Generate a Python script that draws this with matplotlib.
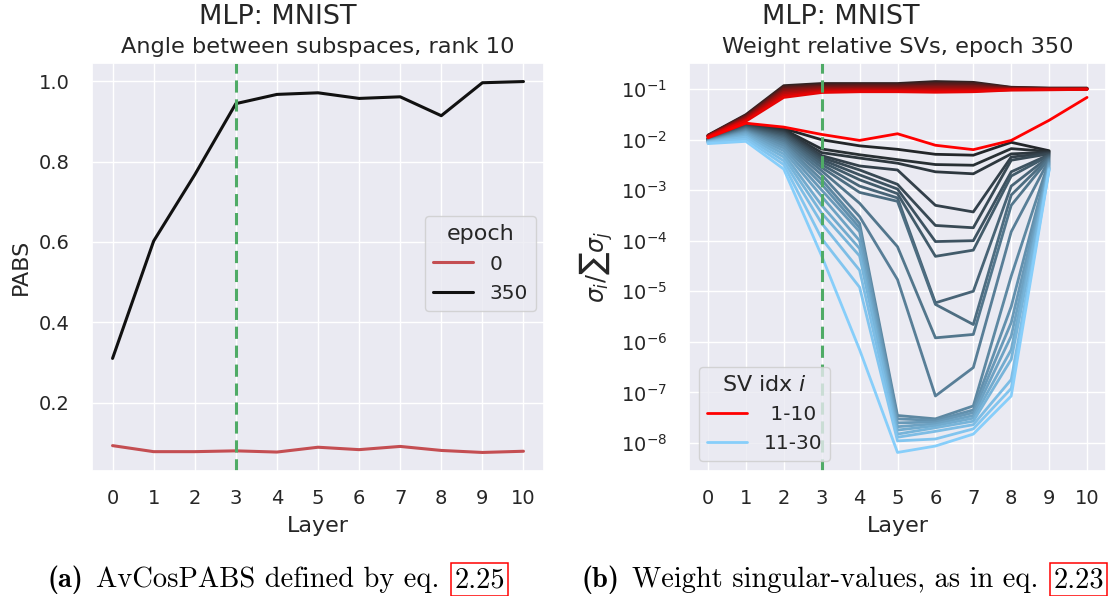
import numpy as np
import matplotlib
matplotlib.use("Agg")
import matplotlib.pyplot as plt
from matplotlib.lines import Line2D
import seaborn as sns

# ---------------- data ----------------
layers = list(range(11))

# (a) average cosine of principal angles between subspaces, rank 10
pabs_epoch0 = [0.093, 0.078, 0.078, 0.080, 0.077, 0.089, 0.083, 0.091, 0.081, 0.076, 0.079]
pabs_epoch350 = [0.310, 0.602, 0.767, 0.944, 0.967, 0.971, 0.957, 0.961, 0.914, 0.996, 0.999]

# (b) relative singular values sigma_i / sum_j sigma_j, epoch 350
# top ten singular values (index 1..10), layers 0..10
sv_top = [
    [0.0122, 0.031, 0.116, 0.128, 0.128, 0.128, 0.140, 0.135, 0.108, 0.104, 0.104],
    [0.0120, 0.030, 0.110, 0.120, 0.122, 0.122, 0.130, 0.128, 0.106, 0.103, 0.103],
    [0.0119, 0.029, 0.104, 0.114, 0.116, 0.116, 0.122, 0.120, 0.104, 0.102, 0.102],
    [0.0118, 0.028, 0.098, 0.108, 0.110, 0.110, 0.114, 0.113, 0.102, 0.101, 0.101],
    [0.0117, 0.027, 0.092, 0.102, 0.104, 0.104, 0.107, 0.106, 0.100, 0.100, 0.100],
    [0.0116, 0.026, 0.086, 0.097, 0.099, 0.099, 0.100, 0.100, 0.099, 0.099, 0.100],
    [0.0115, 0.025, 0.080, 0.093, 0.095, 0.094, 0.095, 0.095, 0.098, 0.098, 0.099],
    [0.0113, 0.024, 0.074, 0.089, 0.091, 0.091, 0.090, 0.091, 0.096, 0.097, 0.099],
    [0.0111, 0.023, 0.068, 0.085, 0.088, 0.088, 0.086, 0.088, 0.095, 0.096, 0.098],
    [0.0108, 0.021, 0.0176, 0.0126, 0.0096, 0.013, 0.0077, 0.0063, 0.0096, 0.024, 0.068],
]
# singular values 11..30, layers 0..9 (the last layer has rank 10)
sv_rest = [
    [0.0105, 0.0205, 0.0165, 9.9e-3, 7.5e-3, 6.4e-3, 5.1e-3, 4.9e-3, 8.8e-3, 6.0e-3],
    [0.0104, 0.0200, 0.0158, 6.5e-3, 5.0e-3, 4.0e-3, 3.2e-3, 3.1e-3, 6.6e-3, 5.8e-3],
    [0.0103, 0.0195, 0.0150, 5.5e-3, 4.3e-3, 3.4e-3, 2.3e-3, 2.1e-3, 5.2e-3, 5.6e-3],
    [0.0102, 0.0190, 0.0142, 4.8e-3, 3.0e-3, 2.5e-3, 5.0e-4, 3.7e-4, 4.5e-3, 5.4e-3],
    [0.0101, 0.0185, 0.0135, 4.4e-3, 2.5e-3, 1.3e-3, 2.0e-4, 1.8e-4, 3.9e-3, 5.2e-3],
    [0.0100, 0.0180, 0.0128, 4.0e-3, 2.0e-3, 1.05e-3, 9.6e-5, 1.0e-4, 2.3e-3, 5.0e-3],
    [0.0099, 0.0175, 0.0120, 3.6e-3, 1.6e-3, 8.5e-4, 4.9e-5, 6.5e-5, 1.9e-3, 4.8e-3],
    [0.0098, 0.0170, 0.0112, 3.2e-3, 1.2e-3, 7.0e-4, 5.9e-6, 1.0e-5, 1.2e-3, 4.6e-3],
    [0.0097, 0.0165, 0.0105, 2.8e-3, 9.0e-4, 6.0e-4, 5.5e-6, 2.2e-6, 8.0e-4, 4.4e-3],
    [0.0096, 0.0160, 0.0098, 2.4e-3, 5.5e-4, 7.6e-5, 1.2e-6, 1.4e-6, 5.0e-4, 4.2e-3],
    [0.0095, 0.0155, 0.0090, 2.0e-3, 3.0e-4, 1.7e-5, 8.5e-8, 3.1e-7, 1.5e-4, 4.0e-3],
    [0.0094, 0.0150, 0.0083, 1.6e-3, 2.2e-4, 3.5e-8, 3.0e-8, 5.4e-8, 2.0e-5, 3.8e-3],
    [0.0093, 0.0145, 0.0076, 1.3e-3, 1.8e-4, 3.0e-8, 2.8e-8, 4.5e-8, 5.0e-6, 3.6e-3],
    [0.0092, 0.0140, 0.0068, 1.0e-3, 1.5e-4, 2.5e-8, 2.6e-8, 4.0e-8, 2.4e-6, 3.4e-3],
    [0.0091, 0.0135, 0.0060, 7.5e-4, 1.0e-4, 2.1e-8, 2.4e-8, 3.5e-8, 1.3e-6, 3.2e-3],
    [0.0090, 0.0128, 0.0052, 5.0e-4, 7.0e-5, 1.8e-8, 2.2e-8, 3.1e-8, 7.0e-7, 3.0e-3],
    [0.0089, 0.0120, 0.0045, 3.5e-4, 5.0e-5, 1.5e-8, 2.0e-8, 2.7e-8, 4.5e-7, 2.8e-3],
    [0.0088, 0.0112, 0.0038, 2.2e-4, 2.6e-5, 1.3e-8, 1.7e-8, 2.3e-8, 1.8e-7, 2.7e-3],
    [0.0086, 0.0102, 0.0032, 1.1e-4, 1.2e-5, 1.1e-8, 1.2e-8, 1.9e-8, 1.2e-7, 2.6e-3],
    [0.0083, 0.0092, 0.0026, 5.0e-5, 7.0e-7, 6.5e-9, 8.7e-9, 1.5e-8, 8.5e-8, 2.5e-3],
]
split_layer = 3

# ---------------- style ----------------
sns.set_theme(style="darkgrid")
plt.rcParams["font.family"] = ["DejaVu Sans"]
plt.rcParams["mathtext.fontset"] = "dejavusans"

W, H = 1108, 596
fig = plt.figure(figsize=(W / 100, H / 100), dpi=100)

TICK = 14
LABEL = 16
SUB = 16.2
SUP = 19.5
GREEN = "#4fab66"

ax1 = fig.add_axes([92 / W, 1 - 471 / H, (544 - 92) / W, (471 - 63) / H])
ax2 = fig.add_axes([689 / W, 1 - 471 / H, (1106 - 689) / W, (471 - 63) / H])

# ---- (a) ----
red_a = "#c44e52"
ax1.plot(layers, pabs_epoch0, color=red_a, lw=2.2, label="0")
ax1.plot(layers, pabs_epoch350, color="#111111", lw=2.2, label="350")
ax1.axvline(split_layer, color=GREEN, ls="--", lw=2.2, dashes=(4, 2.2))
ax1.set_xticks(layers)
ax1.set_yticks([0.2, 0.4, 0.6, 0.8, 1.0])
ax1.tick_params(axis="x", labelsize=TICK, pad=7)
ax1.tick_params(axis="y", labelsize=TICK, pad=10)
ax1.set_xlabel("Layer", fontsize=LABEL, labelpad=6)
ax1.set_ylabel("PABS", fontsize=LABEL, labelpad=6)
ax1.set_title("Angle between subspaces, rank 10", fontsize=SUB, pad=7)
ax1.legend(title="epoch", loc="upper right", bbox_to_anchor=(0.982, 0.624),
           borderaxespad=0, fontsize=TICK + 0.5, title_fontsize=LABEL)

# ---- (b) ----
top_cols = sns.dark_palette("red", len(sv_top))
rest_cols = sns.dark_palette("lightskyblue", len(sv_rest))
for vals, c in zip(sv_rest, rest_cols):
    ax2.plot(layers[:len(vals)], vals, color=c, lw=2.0)
for vals, c in zip(sv_top, top_cols):
    ax2.plot(layers, vals, color=c, lw=2.0)
ax2.axvline(split_layer, color=GREEN, ls="--", lw=2.2, dashes=(4, 2.2))
ax2.set_yscale("log")
ax2.set_xticks(layers)
ax2.tick_params(axis="x", labelsize=TICK, pad=7)
ax2.tick_params(axis="y", labelsize=TICK, pad=10)
ax2.minorticks_off()
ax2.set_xlabel("Layer", fontsize=LABEL, labelpad=6)
ax2.set_ylabel(r"$\sigma_i/\sum\sigma_j$", fontsize=LABEL + 1, labelpad=4)
ax2.set_title("Weight relative SVs, epoch 350", fontsize=SUB, pad=7)
handles = [Line2D([], [], color="red", lw=2.0), Line2D([], [], color="lightskyblue", lw=2.0)]
ax2.legend(handles, [" 1-10", "11-30"], title="SV idx $i$", loc="lower left",
           fontsize=TICK + 0.5, title_fontsize=LABEL)

# ---- headings ----
fig.text(278 / W, 1 - 17 / H, "MLP: MNIST", fontsize=SUP, ha="center", va="center",
         color="#262626")
fig.text(841 / W, 1 - 17 / H, "MLP: MNIST", fontsize=SUP, ha="center", va="center",
         color="#262626")

# ---- captions ----
CAP = 20.5
renderer = fig.canvas.get_renderer()


def caption(x0, y0, tag, body, ref):
    t = fig.text(x0 / W, 1 - y0 / H, tag, family="cmb10", fontsize=CAP, va="baseline",
                 color="black")
    bb = t.get_window_extent(renderer)
    gap = 0.42 * CAP * 100 / 72
    t2 = fig.text((bb.x1 + gap) / W, 1 - y0 / H, body, family="cmr10", fontsize=CAP,
                  va="baseline", color="black")
    bb2 = t2.get_window_extent(renderer)
    fig.text((bb2.x1 + gap + 3) / W, 1 - y0 / H, ref, family="cmr10", fontsize=CAP,
             va="baseline", color="black",
             bbox=dict(boxstyle="square,pad=0.12", fc="none", ec="red", lw=1.1))


caption(48, 587, "(a)", "AvCosPABS defined by eq.", "2.25")
caption(582, 587, "(b)", "Weight singular-values, as in eq.", "2.23")

fig.savefig("out.png", dpi=100)
